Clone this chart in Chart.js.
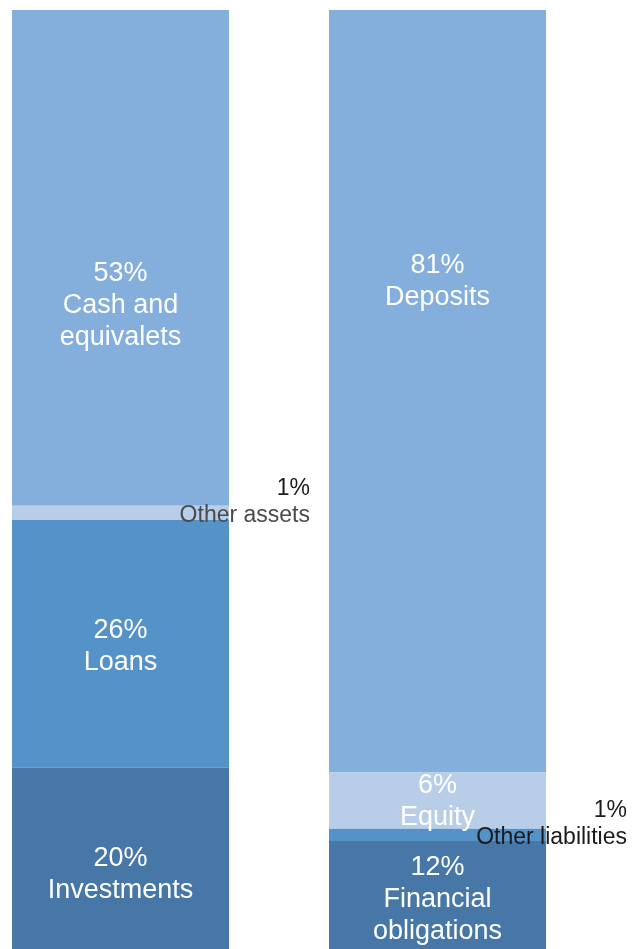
<!DOCTYPE html>
<html>
<head>
<meta charset="utf-8">
<script src="https://cdn.jsdelivr.net/npm/chart.js@4/dist/chart.umd.min.js"></script>
<style>
  html, body { margin: 0; padding: 0; background: #ffffff; }
  #wrap { position: relative; width: 639px; height: 949px; }
</style>
</head>
<body>
<div id="wrap"><canvas id="c"></canvas></div>
<script>
// ---- data (bottom to top within each column) ----
const categories = ['Assets', 'Liabilities'];
const assetNames = ['Investments', 'Loans', 'Other assets', 'Cash and\nequivalets'];
const assetValues = [19.3, 26.4, 1.5, 52.8];
const assetLabels = ['20%', '26%', '1%', '53%'];
const liabilityNames = ['Financial\nobligations', 'Other liabilities', 'Equity', 'Deposits'];
const liabilityValues = [11.5, 1.3, 6.0, 81.2];
const liabilityLabels = ['12%', '1%', '6%', '81%'];

// ---- styles ----
const layerColors = ['#4677A6', '#5592C8', '#B8CEE8', '#84AEDB'];
const labelShift = [[13, 0, 0, 45], [2, 0, -2, -113]];
const outsideColors = [['#222', '#222', '#4a4a4a', '#222'], ['#222', '#1a1a1a', '#222', '#222']];

const labelPlugin = {
  id: 'segLabels',
  afterDatasetsDraw(chart) {
    const ctx = chart.ctx;
    chart.data.datasets.forEach((ds, di) => {
      const meta = chart.getDatasetMeta(di);
      meta.data.forEach((bar, ci) => {
        const names = ci === 0 ? assetNames : liabilityNames;
        const pcts = ci === 0 ? assetLabels : liabilityLabels;
        const nameLines = names[di].split('\n');
        const p = bar.getProps(['x', 'y', 'base', 'width'], true);
        const h = Math.abs(p.base - p.y);
        const cy = (p.y + p.base) / 2;
        ctx.save();
        ctx.textBaseline = 'middle';
        if (h < 20) {
          ctx.font = '23px "Liberation Sans", Arial, sans-serif';
          const rx = p.x + p.width / 2 + 81;
          ctx.textAlign = 'right';
          ctx.fillStyle = '#1a1a1a';
          ctx.fillText(pcts[di], rx, cy - 24);
          ctx.fillStyle = outsideColors[ci][di];
          ctx.fillText(nameLines.join(' '), rx, cy + 3);
        } else {
          ctx.font = '27px "Liberation Sans", Arial, sans-serif';
          ctx.fillStyle = '#ffffff';
          ctx.textAlign = 'center';
          const lines = [pcts[di]].concat(nameLines);
          const lh = 32;
          const start = cy + 3 + labelShift[ci][di] - (lines.length - 1) * lh / 2;
          lines.forEach((t, k) => ctx.fillText(t, p.x, start + k * lh));
        }
        ctx.restore();
      });
    });
  }
};

const datasets = layerColors.map((col, i) => ({
  label: assetNames[i] + ' / ' + liabilityNames[i],
  data: [assetValues[i], liabilityValues[i]],
  backgroundColor: col,
  borderWidth: 0,
  clip: false,
  categoryPercentage: 1,
  barPercentage: 217 / 317
}));

new Chart(document.getElementById('c'), {
  type: 'bar',
  data: { labels: categories, datasets },
  options: {
    responsive: true,
    maintainAspectRatio: false,
    animation: false,
    layout: { padding: { left: 120.5, right: 201.5, top: 10, bottom: 0 } },
    plugins: { legend: { display: false }, tooltip: { enabled: false } },
    scales: {
      x: { stacked: true, display: false, offset: false, grid: { display: false } },
      y: { stacked: true, display: false, min: 0, max: 100, grid: { display: false } }
    }
  },
  plugins: [labelPlugin]
});
</script>
</body>
</html>
